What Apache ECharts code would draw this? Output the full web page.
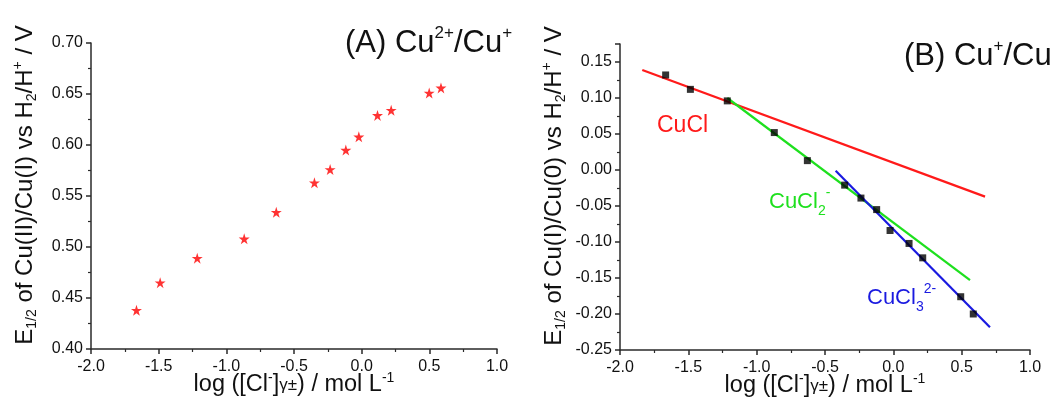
<!DOCTYPE html>
<html>
<head>
<meta charset="utf-8">
<script src="https://cdn.jsdelivr.net/npm/echarts@6/dist/echarts.min.js"></script>
<style>html,body{margin:0;padding:0;background:#fff;}#c{width:1055px;height:403px;}</style>
</head>
<body>
<div id="c"></div>
<script>
// Panel A: Cu2+/Cu+
const logClA = [-1.664, -1.489, -1.215, -0.868, -0.631, -0.349, -0.233, -0.117, -0.021, 0.117, 0.218, 0.499, 0.586];
const e12A   = [0.438, 0.465, 0.489, 0.508, 0.534, 0.563, 0.576, 0.595, 0.608, 0.629, 0.634, 0.651, 0.656];
// Panel B: Cu+/Cu
const logClB = [-1.666, -1.485, -1.215, -0.871, -0.629, -0.356, -0.237, -0.122, -0.024, 0.115, 0.215, 0.493, 0.585];
const e12B   = [0.132, 0.112, 0.096, 0.052, 0.013, -0.021, -0.039, -0.055, -0.084, -0.102, -0.122, -0.176, -0.200];
// Linear fits (end points)
const cuclX  = [-1.837, 0.671];  const cuclY  = [0.139, -0.037];
const cucl2X = [-1.215, 0.561];  const cucl2Y = [0.100, -0.153];
const cucl3X = [-0.422, 0.707];  const cucl3Y = [-0.001, -0.2185];
// Axis ranges / ticks
const xTicks = {min: -2.0, max: 1.0, interval: 0.5};
const yTicksA = {min: 0.40, max: 0.70, interval: 0.05};
const yTicksB = {min: -0.25, max: 0.175, interval: 0.05};

const FONT = '"Liberation Sans", Arial, sans-serif';
const AX = '#2a2a2a';
const zip = (xs, ys) => xs.map((x, i) => [x, ys[i]]);
const star = 'path://M50,0 L61.2,34.5 L97.6,34.5 L68.2,55.9 L79.4,90.5 L50,69.1 L20.6,90.5 L31.8,55.9 L2.4,34.5 L38.8,34.5 Z';

const richName = {
  sub: {fontSize: 14, verticalAlign: 'bottom', fontFamily: FONT, color: '#111'},
  sup: {fontSize: 14, verticalAlign: 'top', fontFamily: FONT, color: '#111'},
  sm:  {fontSize: 17, fontFamily: FONT, color: '#111'}
};

function xAxisCfg(gi) {
  return {
    gridIndex: gi, type: 'value', min: xTicks.min, max: xTicks.max, interval: xTicks.interval,
    name: 'log ([Cl{sup|-}]{sm|γ±}) / mol L{sup|-1}',
    nameLocation: 'middle', nameGap: 22, nameMoveOverlap: false,
    nameTextStyle: {fontSize: 23.5, fontFamily: FONT, color: '#111', lineHeight: 28, rich: richName},
    axisLine: {show: true, onZero: false, lineStyle: {color: AX, width: 1.5}},
    axisTick: {show: true, inside: false, length: 5, lineStyle: {color: AX, width: 1.5}},
    minorTick: {show: true, splitNumber: 2, length: 3, lineStyle: {color: AX, width: 1.2}},
    splitLine: {show: false},
    axisLabel: {fontSize: 16, fontFamily: FONT, color: '#111', margin: 10, formatter: v => v.toFixed(1)}
  };
}
function yAxisCfg(gi, t, nm) {
  return {
    gridIndex: gi, type: 'value', min: t.min, max: t.max, interval: t.interval,
    name: nm, nameLocation: 'middle', nameGap: 52, nameRotate: 90, nameMoveOverlap: false,
    nameTextStyle: {fontSize: 24, fontFamily: FONT, color: '#111', lineHeight: 28,
      padding: [0, 0, 0, 22], rich: richName},
    axisLine: {show: true, onZero: false, lineStyle: {color: AX, width: 1.5}},
    axisTick: {show: true, inside: false, length: 5, lineStyle: {color: AX, width: 1.5}},
    minorTick: {show: true, splitNumber: 2, length: 3, lineStyle: {color: AX, width: 1.2}},
    splitLine: {show: false},
    axisLabel: {fontSize: 16, fontFamily: FONT, color: '#111', margin: 8, showMaxLabel: t.max === 0.70,
      formatter: v => v.toFixed(2)}
  };
}

const chart = echarts.init(document.getElementById('c'), null, {renderer: 'canvas'});
chart.setOption({
  backgroundColor: '#fff',
  animation: false,
  grid: [
    {left: 91, top: 43, width: 406, height: 306, containLabel: false, outerBoundsMode: 'none'},
    {left: 620, top: 44, width: 410, height: 306, containLabel: false, outerBoundsMode: 'none'}
  ],
  xAxis: [xAxisCfg(0), xAxisCfg(1)],
  yAxis: [
    yAxisCfg(0, yTicksA, 'E{sub|1/2} of Cu(II)/Cu(I) vs H{sub|2}/H{sup|+} / V'),
    yAxisCfg(1, yTicksB, 'E{sub|1/2} of Cu(I)/Cu(0) vs H{sub|2}/H{sup|+} / V')
  ],
  series: [
    {type: 'scatter', xAxisIndex: 0, yAxisIndex: 0, data: zip(logClA, e12A),
     symbol: star, symbolSize: 11, itemStyle: {color: '#ff0000'}},
    {type: 'line', xAxisIndex: 1, yAxisIndex: 1, data: zip(cuclX, cuclY), symbol: 'none',
     lineStyle: {color: '#ff1a1a', width: 2.2}, z: 2},
    {type: 'line', xAxisIndex: 1, yAxisIndex: 1, data: zip(cucl2X, cucl2Y), symbol: 'none',
     lineStyle: {color: '#1ee01e', width: 2.2}, z: 2},
    {type: 'line', xAxisIndex: 1, yAxisIndex: 1, data: zip(cucl3X, cucl3Y), symbol: 'none',
     lineStyle: {color: '#1a1ae0', width: 2.2}, z: 2},
    {type: 'scatter', xAxisIndex: 1, yAxisIndex: 1, data: zip(logClB, e12B),
     symbol: 'rect', symbolSize: 7, itemStyle: {color: '#000'}, z: 3}
  ],
  graphic: [
    {type: 'text', left: 345, top: 25, style: {
      text: '(A) Cu{sup|2+}/Cu{sup|+}', fontSize: 31, fontFamily: FONT, fill: '#111', lineHeight: 36,
      rich: {sup: {fontSize: 17, verticalAlign: 'top', fontFamily: FONT, fill: '#111'}}}},
    {type: 'text', left: 904, top: 38, style: {
      text: '(B) Cu{sup|+}/Cu', fontSize: 31, fontFamily: FONT, fill: '#111', lineHeight: 36,
      rich: {sup: {fontSize: 17, verticalAlign: 'top', fontFamily: FONT, fill: '#111'}}}},
    {type: 'text', left: 657, top: 114, style: {
      text: 'CuCl', fontSize: 23, fontFamily: FONT, fill: '#ff1a1a'}},
    {type: 'text', left: 769, top: 186, style: {
      text: 'CuCl{sub|2}{sup|-}', fontSize: 22, fontFamily: FONT, fill: '#1ee01e', lineHeight: 32,
      rich: {sub: {fontSize: 14, verticalAlign: 'bottom', fontFamily: FONT, fill: '#1ee01e'},
             sup: {fontSize: 14, verticalAlign: 'top', fontFamily: FONT, fill: '#1ee01e'}}}},
    {type: 'text', left: 867, top: 282, style: {
      text: 'CuCl{sub|3}{sup|2-}', fontSize: 22, fontFamily: FONT, fill: '#1a1ae0', lineHeight: 32,
      rich: {sub: {fontSize: 14, verticalAlign: 'bottom', fontFamily: FONT, fill: '#1a1ae0'},
             sup: {fontSize: 14, verticalAlign: 'top', fontFamily: FONT, fill: '#1a1ae0'}}}}
  ]
});
</script>
</body>
</html>
